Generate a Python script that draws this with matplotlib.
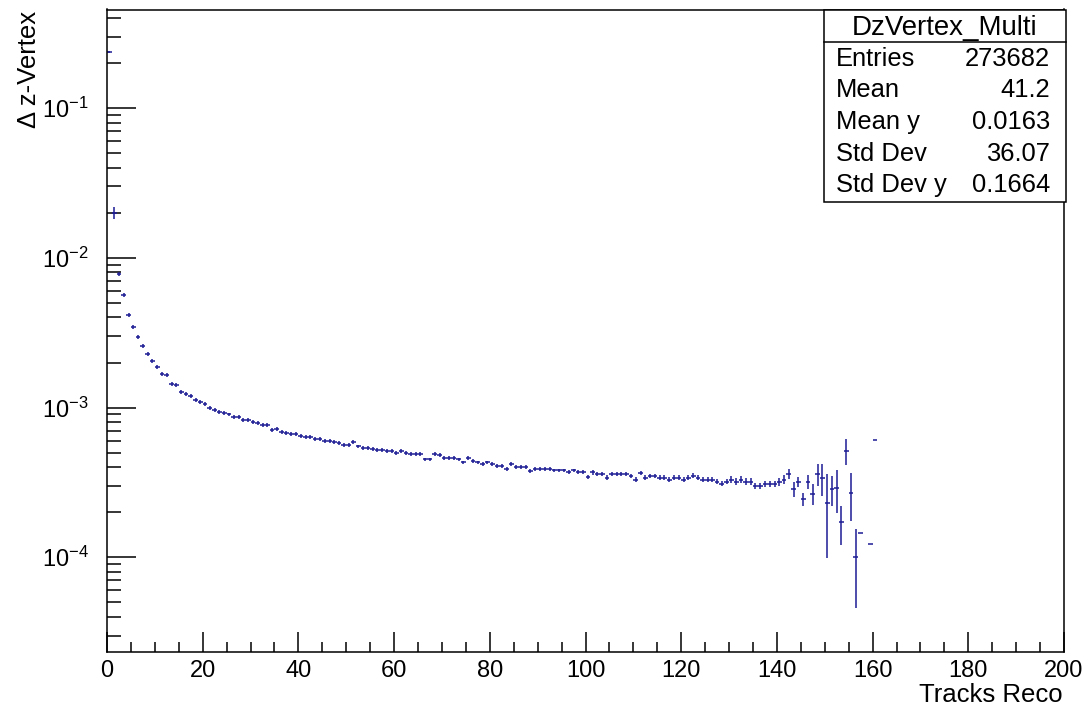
import numpy as np
import matplotlib
matplotlib.use("Agg")
import matplotlib.pyplot as plt
from matplotlib.ticker import MultipleLocator, LogLocator, NullFormatter
from matplotlib.patches import Rectangle
from matplotlib.lines import Line2D

# ---------------- data (profile: mean of dz per bin of reco tracks) ----------------
bin_edges_lo = 0
bin_width = 1
dz_mean = [
    0.237, 0.0200, 0.00785, 0.00566, 0.00416, 0.00347, 0.00298, 0.00257, 0.00229, 0.00205,   # 0-9
    0.00188, 0.00168, 0.00165, 0.00144, 0.00141, 0.00128, 0.00124, 0.00119, 0.00113, 0.00109, # 10-19
    0.00105, 0.00100, 0.00097, 0.00094, 0.00092, 0.00090, 0.00087, 0.00086, 0.00083, 0.00083, # 20-29
    0.00080, 0.00079, 0.00077, 0.00077, 0.00071, 0.00072, 0.00069, 0.00068, 0.00067, 0.00067, # 30-39
    0.00065, 0.00064, 0.00064, 0.00062, 0.00062, 0.00060, 0.00060, 0.00059, 0.00058, 0.00056, # 40-49
    0.00056, 0.00059, 0.00055, 0.00054, 0.00054, 0.00053, 0.00052, 0.00052, 0.00051, 0.00051, # 50-59
    0.00050, 0.00051, 0.00050, 0.00049, 0.00049, 0.00049, 0.00045, 0.00045, 0.00049, 0.00048, # 60-69
    0.00046, 0.00046, 0.00046, 0.00045, 0.00043, 0.00046, 0.00044, 0.00043, 0.00042, 0.00043, # 70-79
    0.00042, 0.00041, 0.00041, 0.00039, 0.00042, 0.00040, 0.00040, 0.00040, 0.000375, 0.00039, # 80-89
    0.00039, 0.00039, 0.00039, 0.00038, 0.00038, 0.00038, 0.00037, 0.00038, 0.00037, 0.00037, # 90-99
    0.000345, 0.00037, 0.00036, 0.00036, 0.00034, 0.00036, 0.00036, 0.00036, 0.00036, 0.00035, # 100-109
    0.00033, 0.000365, 0.00034, 0.00035, 0.00035, 0.00034, 0.00034, 0.00033, 0.00034, 0.00034, # 110-119
    0.00033, 0.00034, 0.00035, 0.00034, 0.00033, 0.00033, 0.00033, 0.00032, 0.00031, 0.00032, # 120-129
    0.00033, 0.00032, 0.00033, 0.00032, 0.00032, 0.00030, 0.00030, 0.00031, 0.00031, 0.00031, # 130-139
    0.00032, 0.00033, 0.00036, 0.000285, 0.00032, 0.000245, 0.00032, 0.000265, 0.00036, 0.00034, # 140-149
    0.00023, 0.000286, 0.00029, 0.000171, 0.000515, 0.00027, 0.00010, 0.000146, np.nan, 0.000122, # 150-159
    0.00061,                                                                                  # 160
]
# relative error of each bin, in percent
dz_err_pct = [
    1.7, 9, 3, 3, 3, 3, 3, 3, 3, 3,
    3, 3, 3, 3, 3, 3, 3, 3, 3, 3,
    3, 3, 3, 3, 3, 3, 3, 3, 3, 3,
    3, 3, 3, 3, 3, 3, 3, 3, 3, 3,
    3, 3, 3, 3, 3, 3, 3, 3, 3, 3,
    3, 3, 3, 3, 3, 3, 3, 3, 3, 3,
    3, 3, 3, 3, 3, 3, 3, 3, 3, 3,
    3, 3, 3, 3, 3, 3, 3, 3, 3, 3,
    3, 3, 3, 3, 3, 3, 3, 3, 3, 3,
    3, 3, 3, 3, 3, 3, 3, 3, 3, 3,
    3.5, 3.5, 3.5, 3.5, 3.5, 3.5, 3.5, 3.5, 3.5, 3.5,
    3.5, 3.5, 3.5, 3.5, 3.5, 3.5, 3.5, 3.5, 3.5, 3.5,
    4, 4, 4, 4, 4, 4, 4, 4, 4, 4,
    5, 5, 5, 5, 5, 5, 5, 5, 5, 5,
    6, 7, 8, 11, 8, 10, 11, 16, 17, 24,
    57, 23, 32, 29, 20, 35, 54, 0, 0, 0,
    0,
]

stats_title = "DzVertex_Multi"
stats_names = ["Entries", "Mean", "Mean y", "Std Dev", "Std Dev y"]
stats_values = ["273682", "41.2", "0.0163", "36.07", "0.1664"]

x_label = "Tracks Reco"
y_label = "\u0394 z-Vertex"

# ---------------- style ----------------
plt.rcParams['font.family'] = ['Liberation Sans', 'DejaVu Sans']
plt.rcParams['mathtext.fontset'] = 'custom'
plt.rcParams['mathtext.rm'] = 'Liberation Sans'
plt.rcParams['mathtext.it'] = 'Liberation Sans:italic'
plt.rcParams['mathtext.default'] = 'regular'

W, H = 1088, 709
fig = plt.figure(figsize=(W / 100, H / 100), dpi=100)
L, R, T, B = 107, 1064, 9.5, 652
ax = fig.add_axes([L / W, 1 - B / H, (R - L) / W, (B - T) / H])

color = '#1c1c94'
vals = np.array(dz_mean, dtype=float)
xc = bin_edges_lo + bin_width * (np.arange(len(vals)) + 0.5)
yerr = vals * np.array(dz_err_pct, dtype=float) / 100.0
ax.errorbar(xc, vals, yerr=yerr, xerr=bin_width / 2, fmt='none',
            ecolor=color, elinewidth=1.1, capsize=0)

ax.set_yscale('log')
ax.set_xlim(0, 200)
ax.set_ylim(2.33e-5, 0.456)

ax.xaxis.set_major_locator(MultipleLocator(20))
ax.xaxis.set_minor_locator(MultipleLocator(5))
ax.yaxis.set_major_locator(LogLocator(base=10, numticks=20))
ax.yaxis.set_minor_locator(LogLocator(base=10, subs=np.arange(2, 10), numticks=20))
ax.yaxis.set_minor_formatter(NullFormatter())

ax.tick_params(which='both', direction='in', top=False, right=False, width=1.1, colors='black')
ax.tick_params(axis='x', which='major', length=14.5, labelsize=17, pad=6)
ax.tick_params(axis='x', which='minor', length=7.2)
ax.tick_params(axis='y', which='major', length=20.8, labelsize=17, pad=13)
ax.tick_params(axis='y', which='minor', length=10.4)
for s in ax.spines.values():
    s.set_linewidth(1.1)

fig.text(1063 / W, 1 - 695 / H, x_label, ha='right', va='center', fontsize=18.5)
fig.text(29 / W, 1 - 11 / H, y_label, ha='center', va='top', rotation=90, fontsize=18.5)

# stats box
bx0, bx1, by0, by1, bsep = 824, 1065.5, 9.5, 201.7, 41.7
fig.add_artist(Rectangle((bx0 / W, 1 - by1 / H), (bx1 - bx0) / W, (by1 - by0) / H,
                         transform=fig.transFigure, facecolor='white',
                         edgecolor='black', linewidth=1.1, zorder=5))
fig.add_artist(Line2D([bx0 / W, bx1 / W], [1 - bsep / H] * 2, transform=fig.transFigure,
                      color='black', linewidth=1.1, zorder=6))
fig.text((bx0 + bx1) / 2 / W, 1 - 35 / H, stats_title, ha='center', va='baseline',
         fontsize=19.9, zorder=7)
baselines = [65.7, 97.3, 129, 161, 192.3]
for name, val, yb in zip(stats_names, stats_values, baselines):
    fig.text(836 / W, 1 - yb / H, name, ha='left', va='baseline', fontsize=18.4, zorder=7)
    fig.text(1050 / W, 1 - yb / H, val, ha='right', va='baseline', fontsize=18.4, zorder=7)

fig.savefig('out.png', dpi=100)
